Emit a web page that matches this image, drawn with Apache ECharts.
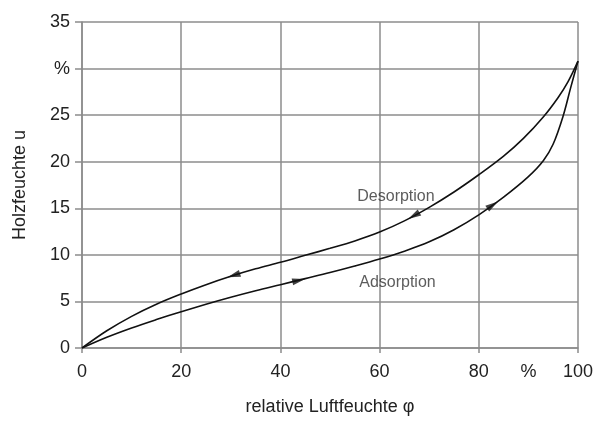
<!DOCTYPE html>
<html>
<head>
<meta charset="utf-8">
<script src="https://cdn.jsdelivr.net/npm/echarts@6/dist/echarts.min.js"></script>
<style>html,body{margin:0;padding:0;background:#fff}#c{width:597px;height:421px}</style>
</head>
<body>
<div id="c"></div>
<script>
// Desorption (upper branch)
var desX = [0, 5, 10, 15, 20, 25, 30, 35, 40, 45, 50, 55, 60, 65, 70, 75, 80, 85, 89, 93, 96, 98, 100];
var desY = [0, 1.85, 3.4, 4.7, 5.8, 6.8, 7.7, 8.5, 9.2, 9.95, 10.7, 11.5, 12.45, 13.65, 15.1, 16.75, 18.6, 20.6, 22.5, 24.8, 26.9, 28.6, 30.8];
// Adsorption (lower branch)
var adsX = [0, 5, 10, 15, 20, 25, 30, 35, 40, 45, 50, 55, 60, 65, 70, 75, 80, 85, 90, 93, 95, 97, 98.5, 100];
var adsY = [0, 1.15, 2.15, 3.05, 3.9, 4.7, 5.45, 6.15, 6.8, 7.45, 8.1, 8.8, 9.55, 10.4, 11.4, 12.7, 14.3, 16.2, 18.4, 20.1, 21.9, 24.9, 27.9, 30.8];
// Direction arrows on the curves
var desArrowX = [30.6, 66.9];
var desArrowY = [7.8, 14.2];
var adsArrowX = [43.7, 82.8];
var adsArrowY = [7.25, 15.35];
// Curve labels
var curveLabels = ['Desorption', 'Adsorption'];
var curveLabelX = [63.3, 63.6];
var curveLabelY = [16.3, 7.0];
// Tick labels
var xTickValues = [0, 10, 20, 30, 40, 50, 60, 70, 80, 90, 100];
var xTickLabels = ['0', '', '20', '', '40', '', '60', '', '80', '%', '100'];
var yTickValues = [0, 5, 10, 15, 20, 25, 30, 35];
var yTickLabels = ['0', '5', '10', '15', '20', '25', '%', '35'];
var xTitle = 'relative Luftfeuchte \u03c6';
var yTitle = 'Holzfeuchte u';

function zip(a, b) { return a.map(function (v, i) { return [v, b[i]]; }); }

var FONT = '"Liberation Sans", Arial, sans-serif';
var GRID = '#8c8c8c';

var chart = echarts.init(document.getElementById('c'), null, { renderer: 'canvas' });
chart.setOption({
  animation: false,
  backgroundColor: '#fff',
  grid: { left: 82, right: 19, top: 22, bottom: 65 },
  xAxis: [{
    type: 'value', min: 0, max: 100, interval: 20,
    axisLine: { show: true, lineStyle: { color: GRID, width: 1.5 } },
    axisTick: { show: true, length: 5, lineStyle: { color: GRID, width: 1.5 } },
    axisLabel: { show: false },
    splitLine: { show: true, lineStyle: { color: GRID, width: 1.5 } },
    name: xTitle, nameLocation: 'middle', nameGap: 50,
    nameTextStyle: { fontFamily: FONT, fontSize: 18, color: '#222' }
  }, {
    type: 'value', min: 0, max: 100, interval: 10, position: 'bottom',
    axisLine: { show: false }, axisTick: { show: false }, splitLine: { show: false },
    axisLabel: {
      margin: 15, fontFamily: FONT, fontSize: 18, color: '#222',
      formatter: function (v) { var i = xTickValues.indexOf(v); return i >= 0 ? xTickLabels[i] : ''; }
    }
  }],
  yAxis: {
    type: 'value', min: 0, max: 35, interval: 5,
    axisLine: { show: true, lineStyle: { color: GRID, width: 1.5 } },
    axisTick: { show: true, length: 7, lineStyle: { color: GRID, width: 1.5 } },
    axisLabel: {
      margin: 12, fontFamily: FONT, fontSize: 18, color: '#222',
      formatter: function (v) { var i = yTickValues.indexOf(v); return i >= 0 ? yTickLabels[i] : ''; }
    },
    splitLine: { show: true, lineStyle: { color: GRID, width: 1.5 } },
    name: yTitle, nameLocation: 'middle', nameGap: 53, nameRotate: 90,
    nameTextStyle: { fontFamily: FONT, fontSize: 18, color: '#222' }
  },
  series: [{
    type: 'line', name: 'Desorption', data: zip(desX, desY), smooth: 0.35,
    showSymbol: false, lineStyle: { color: '#111', width: 1.6 }, z: 5
  }, {
    type: 'line', name: 'Adsorption', data: zip(adsX, adsY), smooth: 0.35,
    showSymbol: false, lineStyle: { color: '#111', width: 1.6 }, z: 5
  }, {
    type: 'scatter', symbol: 'triangle', symbolSize: [7, 13], itemStyle: { color: '#111' }, z: 6,
    data: zip(desArrowX, desArrowY).map(function (p, i) { return { value: p, symbolRotate: [108, 120][i] }; })
  }, {
    type: 'scatter', symbol: 'triangle', symbolSize: [7, 13], itemStyle: { color: '#111' }, z: 6,
    data: zip(adsArrowX, adsArrowY).map(function (p, i) { return { value: p, symbolRotate: [-78, -57][i] }; })
  }, {
    type: 'scatter', symbolSize: 0,
    data: curveLabels.map(function (t, i) { return { value: [curveLabelX[i], curveLabelY[i]], name: t }; }),
    label: { show: true, position: 'inside', formatter: '{b}', fontFamily: FONT, fontSize: 16, color: '#333' },
    z: 7
  }]
});
</script>
</body>
</html>
